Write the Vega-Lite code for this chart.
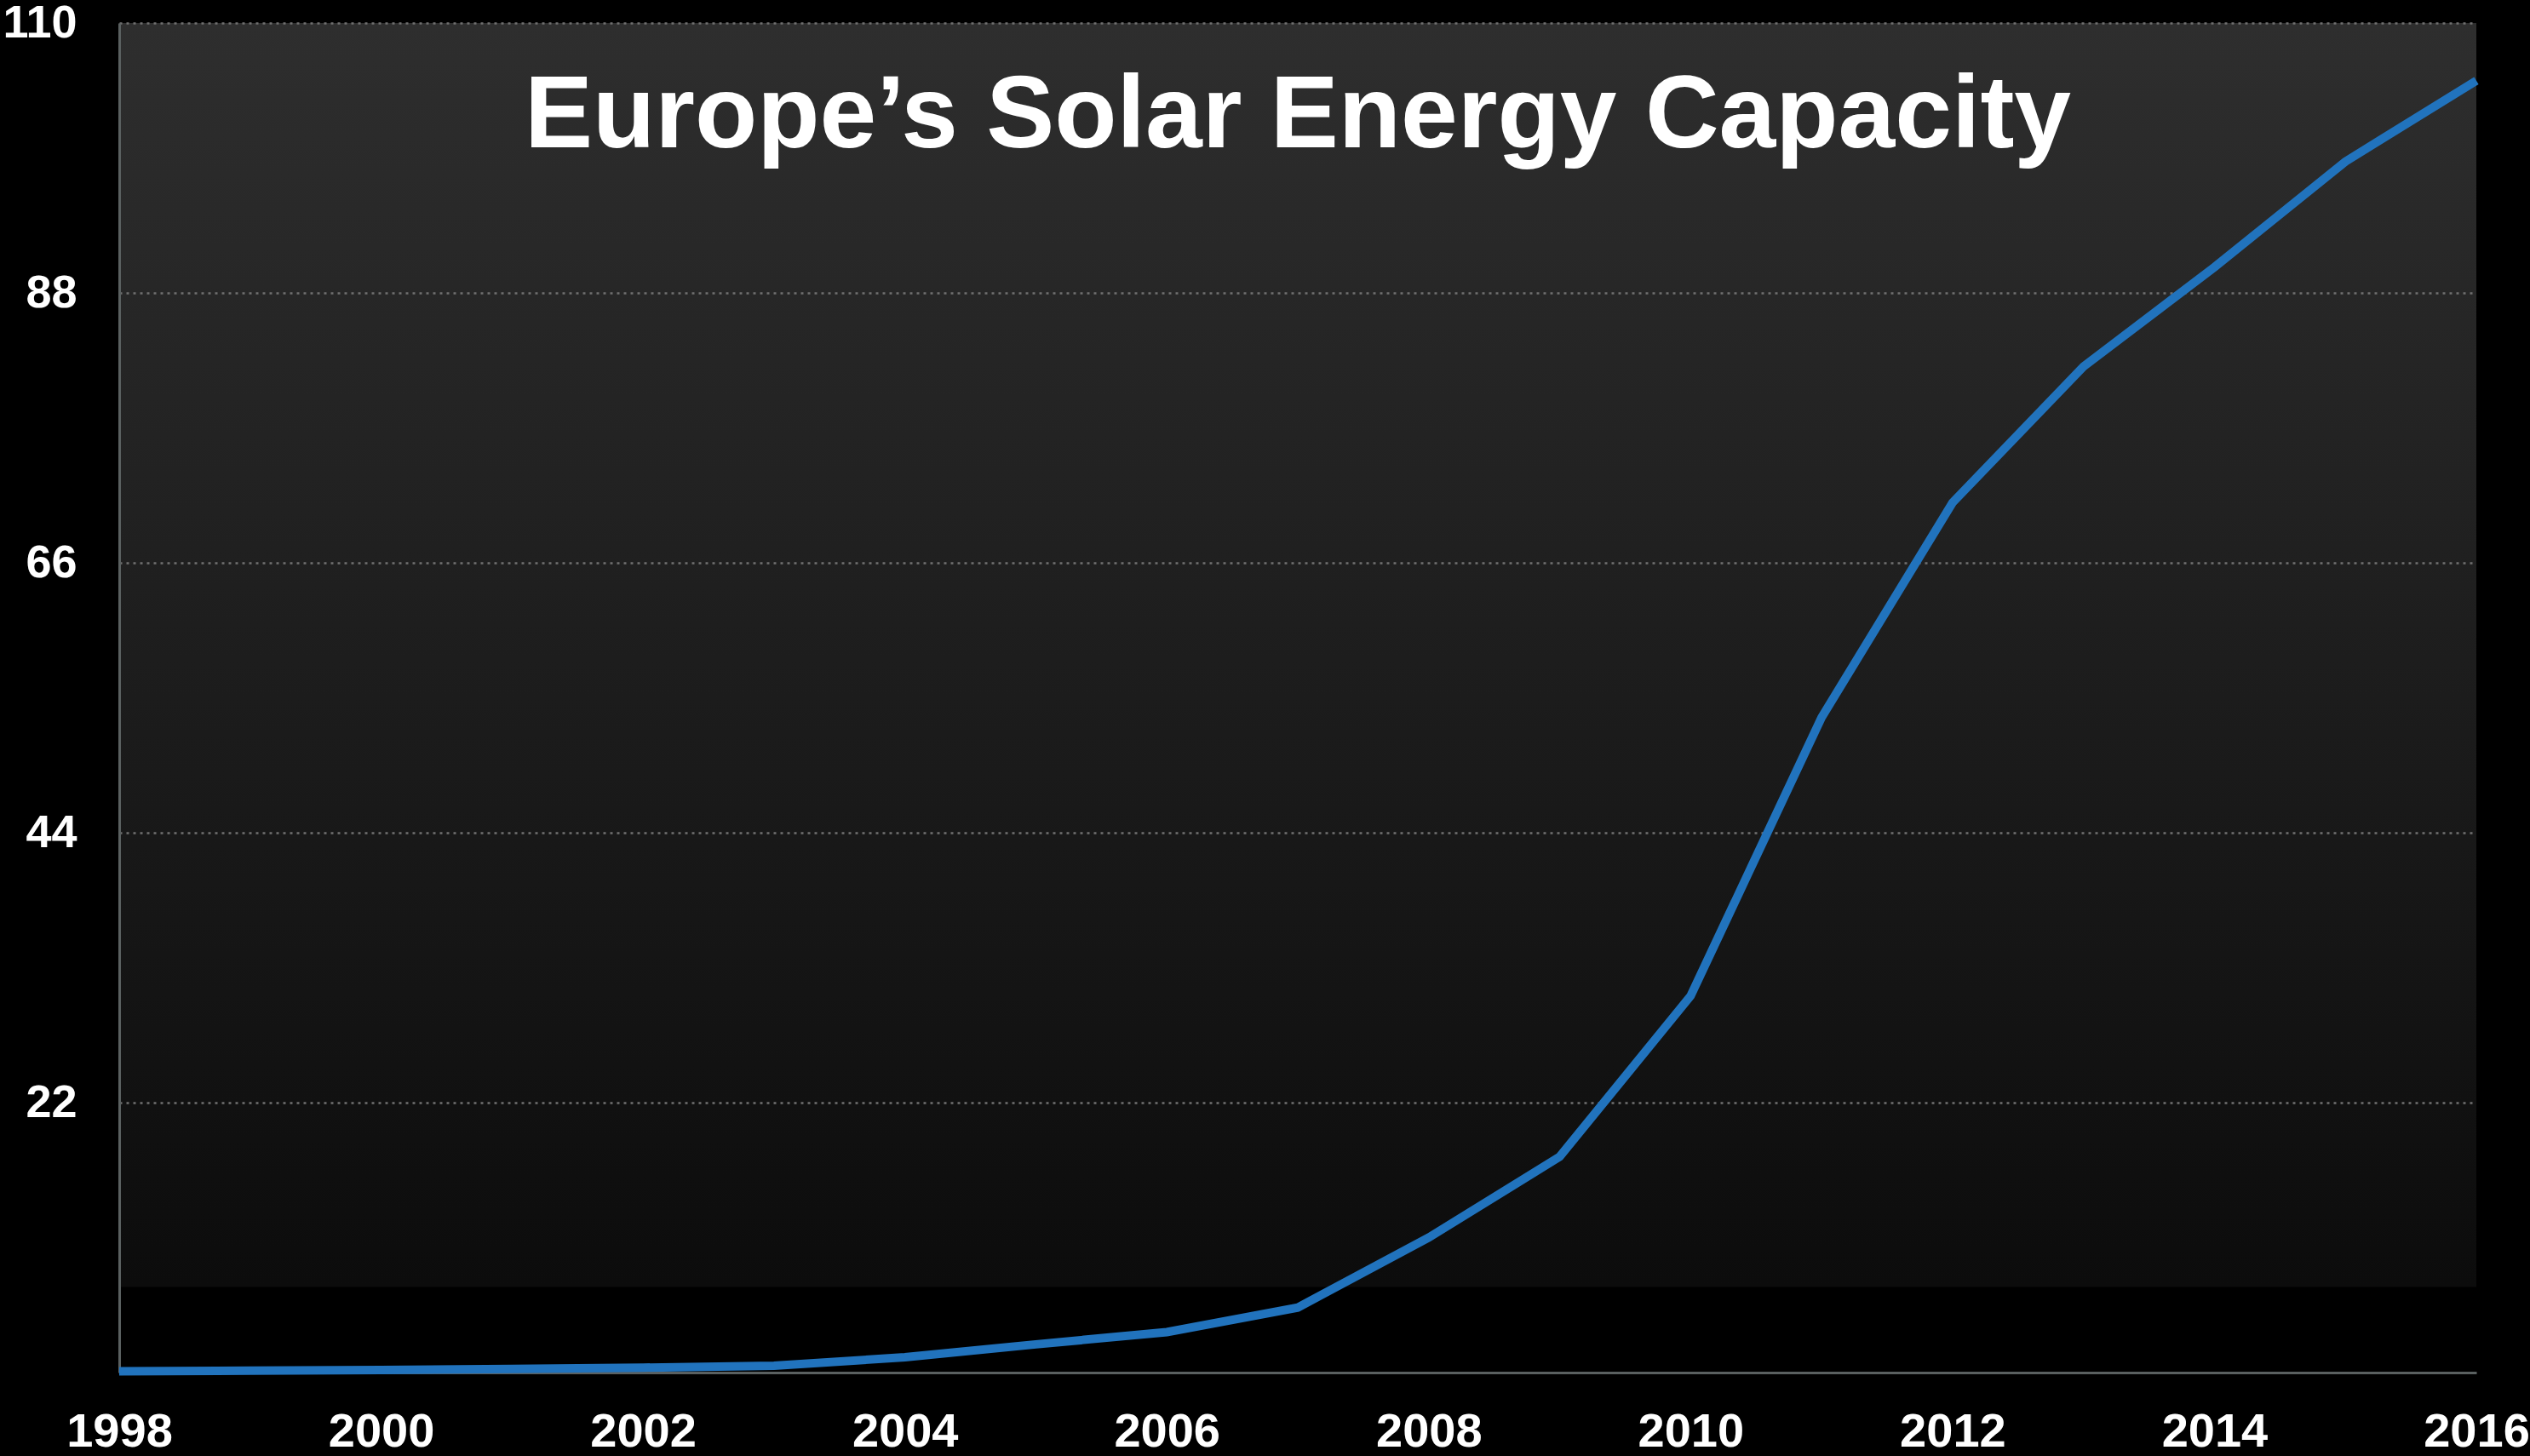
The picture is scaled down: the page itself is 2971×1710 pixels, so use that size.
{
  "$schema": "https://vega.github.io/schema/vega-lite/v6.json",
  "autosize": {"type": "none"},
  "width": 2768,
  "height": 1585,
  "padding": {"left": 140, "top": 27, "right": 63, "bottom": 98},
  "background": "#000000",
  "title": {
    "text": "Europe’s Solar Energy Capacity",
    "anchor": "middle",
    "orient": "top",
    "frame": "group",
    "font": "Liberation Sans",
    "fontWeight": "bold",
    "fontSize": 120,
    "color": "#ffffff",
    "baseline": "alphabetic",
    "offset": -293
  },
  "data": {
    "values": [
      {"year": 1998, "capacity": 0.1},
      {"year": 1999, "capacity": 0.15},
      {"year": 2000, "capacity": 0.2},
      {"year": 2001, "capacity": 0.3},
      {"year": 2002, "capacity": 0.4},
      {"year": 2003, "capacity": 0.55},
      {"year": 2004, "capacity": 1.25},
      {"year": 2005, "capacity": 2.3},
      {"year": 2006, "capacity": 3.3},
      {"year": 2007, "capacity": 5.3},
      {"year": 2008, "capacity": 11.0},
      {"year": 2009, "capacity": 17.6},
      {"year": 2010, "capacity": 30.7},
      {"year": 2011, "capacity": 53.4},
      {"year": 2012, "capacity": 70.9},
      {"year": 2013, "capacity": 82.0},
      {"year": 2014, "capacity": 90.1},
      {"year": 2015, "capacity": 98.7},
      {"year": 2016, "capacity": 105.3}
    ]
  },
  "mark": {"type": "line", "color": "#2173bd", "strokeWidth": 10, "strokeJoin": "miter", "clip": false},
  "encoding": {
    "x": {
      "field": "year",
      "type": "quantitative",
      "scale": {"domain": [1998, 2016], "nice": false, "zero": false},
      "axis": {
        "title": null,
        "values": [1998, 2000, 2002, 2004, 2006, 2008, 2010, 2012, 2014, 2016],
        "format": "d",
        "grid": false,
        "ticks": false,
        "domainColor": "#5a6060",
        "domainWidth": 3,
        "labelColor": "#ffffff",
        "labelFont": "Liberation Sans",
        "labelFontWeight": "bold",
        "labelFontSize": 56,
        "labelPadding": 42,
        "labelFlush": false,
        "labelOverlap": false,
        "labelBound": false
      }
    },
    "y": {
      "field": "capacity",
      "type": "quantitative",
      "scale": {"domain": [0, 110], "nice": false},
      "axis": {
        "title": null,
        "values": [22, 44, 66, 88, 110],
        "grid": true,
        "gridColor": "#707070",
        "gridWidth": 2.5,
        "gridDash": [3, 5],
        "ticks": false,
        "domainColor": "#5a6060",
        "domainWidth": 3,
        "labelColor": "#ffffff",
        "labelFont": "Liberation Sans",
        "labelFontWeight": "bold",
        "labelFontSize": 54,
        "labelPadding": 50,
        "labelFlush": false,
        "labelOverlap": false,
        "labelBound": false,
        "labelBaseline": "middle"
      }
    }
  },
  "config": {
    "view": {
      "stroke": null,
      "fill": {
        "gradient": "linear",
        "x1": 0, "y1": 0, "x2": 0, "y2": 1,
        "stops": [
          {"offset": 0, "color": "#2e2e2e"},
          {"offset": 0.5, "color": "#1c1c1c"},
          {"offset": 0.936, "color": "#0c0c0c"},
          {"offset": 0.937, "color": "#000000"},
          {"offset": 1, "color": "#000000"}
        ]
      }
    }
  }
}
